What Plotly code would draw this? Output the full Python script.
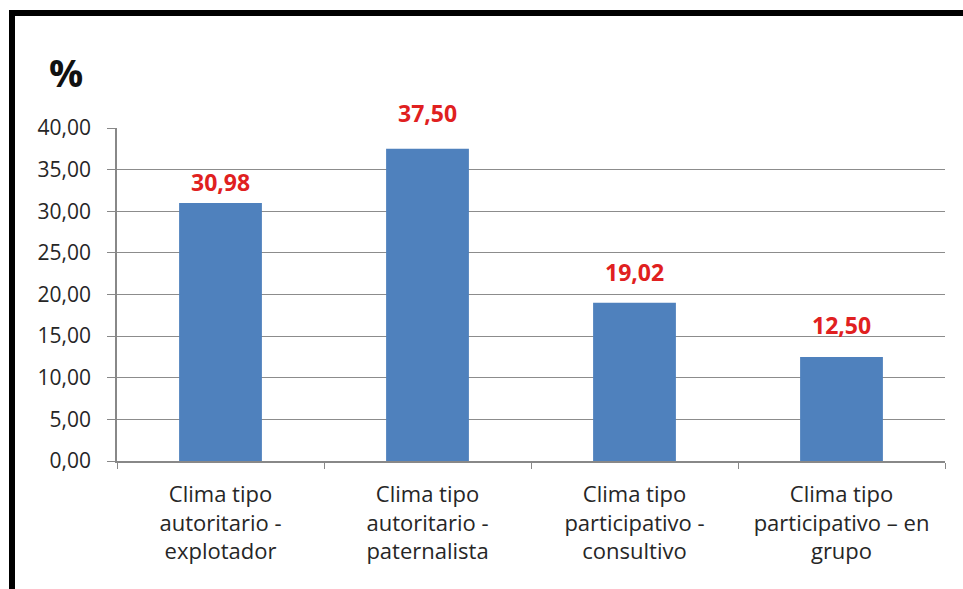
import plotly.graph_objects as go

categories = [
    "Clima tipo<br>autoritario -<br>explotador",
    "Clima tipo<br>autoritario -<br>paternalista",
    "Clima tipo<br>participativo -<br>consultivo",
    "Clima tipo<br>participativo – en<br>grupo",
]
values = [30.98, 37.50, 19.02, 12.50]
value_labels = ["30,98", "37,50", "19,02", "12,50"]
y_ticks = [0, 5, 10, 15, 20, 25, 30, 35, 40]

# vertical offset (px) of each value label's centre above its bar top
label_offsets_px = [21, 36, 31, 32]

FONT = "Open Sans"
W, H = 963, 589
L, R, T, B = 117, 18, 128, 128

fig = go.Figure()
fig.add_trace(go.Bar(
    x=categories, y=values,
    marker=dict(color="#4f81bd", line=dict(width=0)),
    width=0.4,
    hoverinfo="skip",
))

for c, v, t, off in zip(categories, values, value_labels, label_offsets_px):
    fig.add_annotation(
        x=c, y=v, text="<b>%s</b>" % t, showarrow=False,
        yanchor="middle", yshift=off,
        font=dict(family=FONT, size=23, color="#e02020"),
    )

fig.add_annotation(
    xref="paper", yref="paper", x=(66 - L) / 828, y=(461 - 72) / 333,
    text="<b>%</b>", showarrow=False, xanchor="center", yanchor="middle",
    font=dict(family=FONT, size=38, color="#111111"),
)

# Thick black frame on the top and left edges
fig.add_shape(
    type="rect", xref="paper", yref="paper",
    x0=(12 - L) / 828, x1=(980 - L) / 828,
    y0=(461 - 620) / 333, y1=(461 - 13) / 333,
    line=dict(color="black", width=6), fillcolor="rgba(0,0,0,0)",
    layer="above",
)

fig.update_layout(
    width=W, height=H,
    margin=dict(l=L, r=R, t=T, b=B),
    paper_bgcolor="white", plot_bgcolor="white",
    separators=",.",
    showlegend=False,
    font=dict(family=FONT, size=21, color="#262626"),
    xaxis=dict(
        showline=True, linecolor="#888888", linewidth=1.5,
        ticks="outside", ticklen=6, tickcolor="#888888",
        tickson="boundaries",
        tickfont=dict(family=FONT, size=22, color="#262626"),
        showgrid=False,
        ticklabelstandoff=13,
    ),
    yaxis=dict(
        range=[0, 40], tickvals=y_ticks, tickformat=".2f",
        showline=True, linecolor="#888888", linewidth=1.5,
        ticks="outside", ticklen=8, tickcolor="#888888",
        showgrid=True, gridcolor="#8c8c8c", gridwidth=1.2,
        zeroline=False,
        tickfont=dict(family=FONT, size=21, color="#262626"),
        ticklabelstandoff=12,
    ),
)

fig.write_html("out.html")
